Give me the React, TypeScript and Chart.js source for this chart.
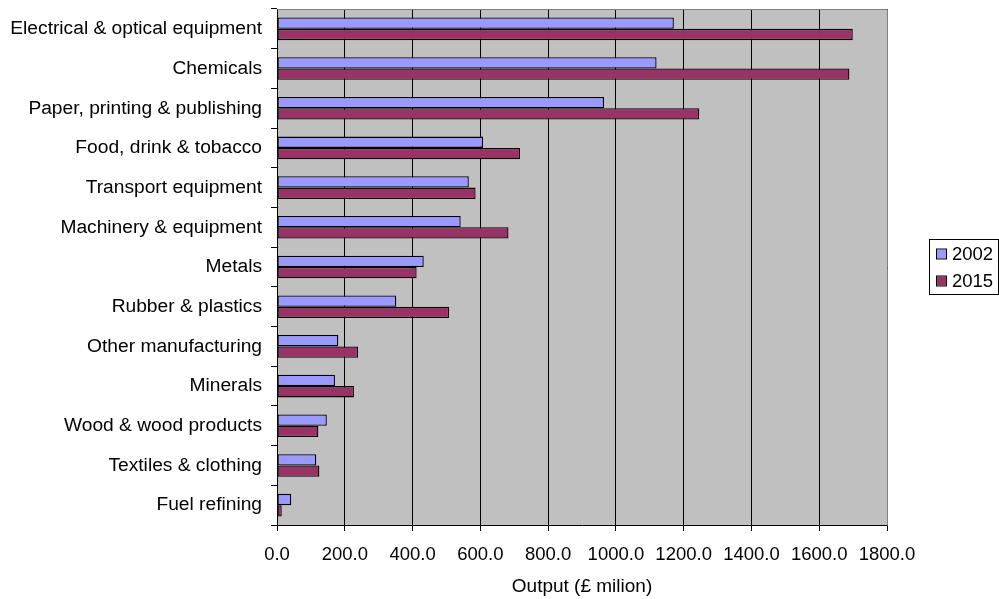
import React, { useEffect, useRef } from "react";
import { Chart, registerables } from "chart.js";

Chart.register(...registerables);

const categories = [
  "Electrical & optical equipment",
  "Chemicals",
  "Paper, printing & publishing",
  "Food, drink & tobacco",
  "Transport equipment",
  "Machinery & equipment",
  "Metals",
  "Rubber & plastics",
  "Other manufacturing",
  "Minerals",
  "Wood & wood products",
  "Textiles & clothing",
  "Fuel refining",
];

const values2002 = [1171, 1120, 965, 608, 566, 542, 433, 352, 181, 171, 147, 116, 42];
const values2015 = [1699, 1689, 1246, 717, 586, 683, 412, 508, 239, 227, 122, 125, 14];

const seriesLabels = ["2002", "2015"];
const seriesColors = ["#9999FF", "#993366"];
const axisTitle = "Output (£ milion)";

const FONT = "'Liberation Sans', Arial, sans-serif";

// Grey plot background and frame
const plotFrame = {
  id: "plotFrame",
  beforeDraw(chart: any) {
    const { ctx, chartArea } = chart;
    ctx.save();
    ctx.fillStyle = "#C0C0C0";
    ctx.fillRect(chartArea.left, chartArea.top, chartArea.right - chartArea.left, chartArea.bottom - chartArea.top);
    ctx.restore();
  },
  afterDatasetsDraw(chart: any) {
    const { ctx, chartArea } = chart;
    ctx.save();
    ctx.strokeStyle = "#808080";
    ctx.lineWidth = 1;
    ctx.beginPath();
    ctx.moveTo(Math.round(chartArea.left) + 0.5, Math.round(chartArea.top) + 0.5);
    ctx.lineTo(Math.round(chartArea.right) + 0.5, Math.round(chartArea.top) + 0.5);
    ctx.lineTo(Math.round(chartArea.right) + 0.5, Math.round(chartArea.bottom) + 0.5);
    ctx.stroke();
    ctx.restore();
  },
};

// Boxed legend on the right
const boxLegend = {
  id: "boxLegend",
  afterDraw(chart: any) {
    const { ctx } = chart;
    const x = 929.5;
    const y = 239.5;
    const w = 69;
    const h = 55;
    ctx.save();
    ctx.strokeStyle = "#000000";
    ctx.lineWidth = 1;
    ctx.strokeRect(x, y, w, h);
    ctx.font = `18.5px ${FONT}`;
    ctx.textBaseline = "middle";
    ctx.textAlign = "left";
    chart.data.datasets.forEach((ds: any, i: number) => {
      const cy = 254 + i * 27;
      ctx.fillStyle = ds.backgroundColor;
      ctx.fillRect(937, cy - 4.5, 9, 9);
      ctx.strokeStyle = "#000000";
      ctx.strokeRect(936.5, cy - 5, 10, 10);
      ctx.fillStyle = "#000000";
      ctx.fillText(ds.label, 952, cy + 1);
    });
    ctx.restore();
  },
};

export default function App() {
  const canvasRef = useRef<HTMLCanvasElement>(null);

  useEffect(() => {
    const canvas = canvasRef.current;
    if (!canvas) return;
    const chart = new Chart(canvas, {
      type: "bar",
      data: {
        labels: categories,
        datasets: [
          {
            label: seriesLabels[0],
            data: values2002,
            backgroundColor: seriesColors[0],
            borderColor: "#000000",
            borderWidth: 1.3,
            borderSkipped: false,
          },
          {
            label: seriesLabels[1],
            data: values2015,
            backgroundColor: seriesColors[1],
            borderColor: "#000000",
            borderWidth: 1.3,
            borderSkipped: false,
          },
        ],
      },
      options: {
        indexAxis: "y",
        responsive: false,
        animation: false,
        layout: { padding: { top: 9, right: 112, left: 0, bottom: 0 } },
        datasets: { bar: { categoryPercentage: 0.57, barPercentage: 1 } },
        plugins: {
          legend: { display: false },
          tooltip: { enabled: false },
        },
        scales: {
          x: {
            min: 0,
            max: 1800,
            ticks: {
              stepSize: 200,
              color: "#000000",
              font: { family: FONT, size: 18.5 },
              padding: 13,
              maxRotation: 0,
              callback: (v: any) => Number(v).toFixed(1),
            },
            grid: {
              color: "#000000",
              lineWidth: 1,
              tickLength: 6,
              drawOnChartArea: true,
            },
            border: { color: "#000000", width: 1 },
            title: {
              display: true,
              text: axisTitle,
              color: "#000000",
              font: { family: FONT, size: 19 },
              padding: { top: 0, bottom: 1 },
            },
            afterFit: (scale: any) => {
              scale.height = 74;
              scale.paddingLeft = 0;
              scale.paddingRight = 0;
            },
          },
          y: {
            ticks: {
              color: "#000000",
              font: { family: FONT, size: 19.2 },
              padding: 9,
              autoSkip: false,
            },
            grid: {
              offset: true,
              drawOnChartArea: false,
              color: "#000000",
              tickLength: 6,
            },
            border: { color: "#000000", width: 1 },
            afterFit: (scale: any) => {
              scale.width = 277;
              scale.paddingTop = 0;
              scale.paddingBottom = 0;
            },
          },
        },
      },
      plugins: [plotFrame, boxLegend],
    });
    return () => chart.destroy();
  }, []);

  return (
    <div style={{ position: "fixed", left: 0, top: 0, width: 999, height: 599, background: "#ffffff" }}>
      <canvas ref={canvasRef} width={999} height={599} />
    </div>
  );
}
